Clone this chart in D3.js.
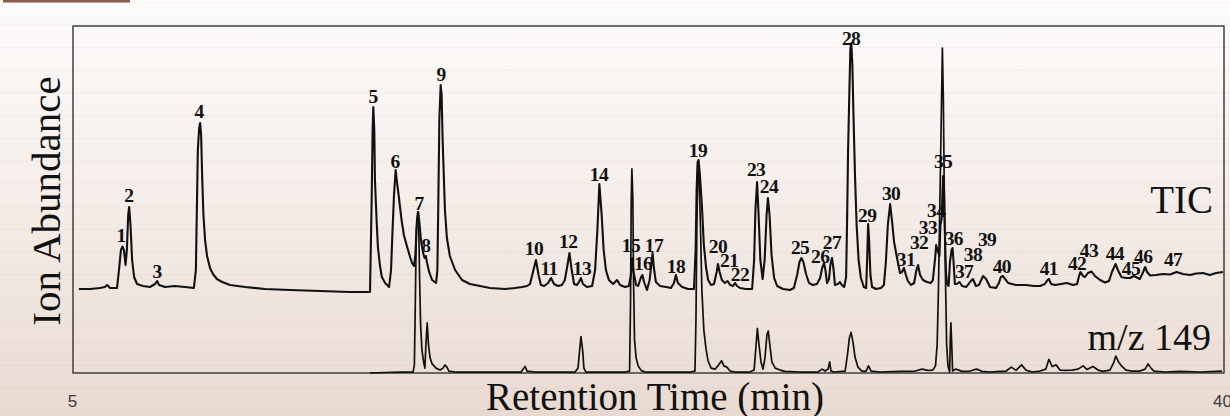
<!DOCTYPE html>
<html>
<head>
<meta charset="utf-8">
<script src="https://cdn.jsdelivr.net/npm/d3@7"></script>
<style>
  html, body { margin: 0; padding: 0; background: #fff; }
  svg { display: block; }
  .serif { font-family: "Liberation Serif", "Times New Roman", serif; fill: #111; }
  .peak-label { font-family: "Liberation Serif", "Times New Roman", serif; font-weight: bold; font-size: 19.5px; letter-spacing: -0.6px; fill: #111; }
  .tick text { font-family: "Liberation Sans", Arial, sans-serif; font-size: 17px; fill: #3a3a3a; }
</style>
</head>
<body>
<svg id="chart" width="1230" height="416"></svg>
<script>
// Axis ticks (retention time, min)
const X_TICKS = [5, 40];

// TIC trace: [retention time (min), abundance]
const ticTrace = [
  [5.21,2.4],[5.55,2.4],[5.85,2.8],[6.00,3.2],[6.07,4.0],[6.16,2.8],[6.37,2.8],[6.43,10],[6.49,18],[6.54,19.4],
  [6.58,18],[6.63,12],[6.67,18],[6.71,32],[6.74,35.2],[6.78,28],[6.83,14],[6.89,7.2],[6.98,4.4],[7.16,3.6],
  [7.37,3.2],[7.53,4.4],[7.59,5.6],[7.65,4.0],[7.83,3.2],[8.13,3.6],[8.44,3.2],[8.71,2.8],[8.77,10],[8.80,34],
  [8.83,58],[8.87,66.8],[8.90,68.8],[8.93,64],[8.96,48],[9.00,32],[9.05,22],[9.11,15.6],[9.20,10.8],[9.29,8.4],
  [9.41,6.4],[9.57,5.2],[9.81,4.0],[10.27,3.2],[10.87,2.4],[11.63,2.0],[12.55,1.6],[13.46,1.2],[14.07,1.2],[14.12,38],
  [14.15,66],[14.17,75.2],[14.20,66],[14.22,46],[14.27,30],[14.31,19.2],[14.37,12],[14.43,7.2],[14.53,4.8],[14.65,3.2],
  [14.71,10],[14.75,24],[14.80,40],[14.85,50],[14.89,45.2],[14.94,40],[15.03,30],[15.10,24],[15.20,19.2],[15.29,15.2],
  [15.35,12.8],[15.41,11.6],[15.45,16],[15.50,30],[15.54,33.2],[15.58,28],[15.62,22],[15.68,17.2],[15.73,14.8],[15.77,15.6],
  [15.80,13.2],[15.87,9.2],[15.96,6],[16.08,4.8],[16.12,10],[16.15,38],[16.18,70],[16.22,84],[16.25,80],[16.28,62],
  [16.31,50],[16.35,34],[16.41,22.8],[16.50,15.6],[16.66,10],[16.87,6],[17.11,4.4],[17.42,3.6],[17.72,2.8],[18.18,2.4],
  [18.48,2.8],[18.70,3.2],[18.85,3.6],[18.94,4.4],[19.03,9.2],[19.12,14],[19.20,8],[19.27,4],[19.37,3.6],[19.49,4.8],
  [19.58,6.8],[19.67,4.4],[19.79,3.6],[19.91,4],[20.00,6],[20.08,12],[20.14,16.8],[20.20,10.8],[20.28,4.4],[20.37,4],
  [20.43,5.2],[20.49,6.8],[20.55,4.4],[20.67,3.2],[20.83,3.6],[20.92,10],[20.99,26],[21.05,44.4],[21.12,32],[21.18,18],
  [21.25,10],[21.34,6],[21.47,4.4],[21.59,6],[21.68,4],[21.83,3.2],[21.95,3.6],[22.01,8],[22.05,14.8],[22.09,9.2],
  [22.17,4],[22.23,3.6],[22.32,7.2],[22.36,8],[22.41,5.2],[22.50,2],[22.58,6],[22.64,13.2],[22.67,16.8],[22.71,10.8],
  [22.77,5.2],[22.90,3.6],[23.08,3.2],[23.23,2.8],[23.32,4.8],[23.38,8],[23.44,4.8],[23.57,3.2],[23.75,2.4],[23.93,2.4],
  [23.98,18],[24.01,42],[24.04,53.2],[24.07,54],[24.11,48],[24.17,36],[24.23,20],[24.30,10.8],[24.36,6],[24.45,4],
  [24.54,4.4],[24.62,9.2],[24.66,12.4],[24.71,9.2],[24.78,6],[24.87,4.8],[24.95,5.6],[25.03,4],[25.12,3.6],[25.18,4.8],
  [25.24,3.6],[25.33,2.8],[25.51,2.4],[25.70,2.4],[25.76,14],[25.80,34],[25.85,45.2],[25.89,34],[25.95,14],[26.02,6.4],
  [26.08,14],[26.14,32],[26.18,38.8],[26.23,32],[26.29,16],[26.37,6.8],[26.46,3.6],[26.64,2.4],[26.85,2],[26.97,2.8],
  [27.07,8],[27.14,13.2],[27.20,14.8],[27.26,13.2],[27.34,8.4],[27.43,4.8],[27.55,4],[27.67,4.4],[27.77,6.8],[27.83,10.8],
  [27.89,12.8],[27.93,10],[27.98,4.8],[28.04,6.4],[28.08,12],[28.13,14.8],[28.18,10],[28.22,4],[28.31,4.4],[28.37,5.2],
  [28.43,4],[28.50,3.2],[28.56,7.2],[28.59,30],[28.62,58],[28.66,82],[28.69,98.8],[28.72,100.8],[28.75,92],[28.78,74],
  [28.83,48],[28.88,28],[28.94,14],[29.01,6.8],[29.10,3.2],[29.17,2.8],[29.20,14],[29.23,28.4],[29.26,22],[29.30,8],
  [29.35,3.2],[29.47,2.4],[29.62,2.8],[29.71,4],[29.77,13.2],[29.83,28],[29.90,36.4],[29.96,29.2],[30.02,21.2],[30.11,14.8],
  [30.20,8.8],[30.26,9.2],[30.32,10.8],[30.38,8],[30.44,5.6],[30.53,4],[30.63,4.8],[30.70,10],[30.75,12],[30.81,8],
  [30.90,6],[31.02,5.2],[31.14,4.8],[31.20,6],[31.27,14.8],[31.30,20],[31.36,17.2],[31.40,15.6],[31.43,28],[31.47,30.8],
  [31.49,40],[31.51,47.6],[31.54,42],[31.57,22],[31.60,9.2],[31.63,4.4],[31.68,3.6],[31.72,13.2],[31.77,18],[31.80,18.8],
  [31.83,13.2],[31.87,4.4],[31.93,4.4],[32.01,5.2],[32.09,3.6],[32.22,3.2],[32.33,5.2],[32.42,6.4],[32.51,3.6],[32.60,4],
  [32.73,7.6],[32.82,6.4],[32.94,3.2],[33.12,2.8],[33.21,4.8],[33.27,7.2],[33.33,7.6],[33.40,6.4],[33.49,4.8],[33.73,4],
  [34.03,4],[34.28,3.6],[34.46,3.6],[34.61,4.4],[34.69,6],[34.73,6.4],[34.80,4.4],[34.92,4],[35.10,4.4],[35.28,4.8],
  [35.47,4],[35.59,4.4],[35.65,7.6],[35.69,9.2],[35.77,7.6],[35.83,7.2],[35.92,8.8],[36.03,9.4],[36.13,7.6],[36.29,6],
  [36.44,5],[36.56,5.6],[36.65,9.2],[36.76,12.4],[36.83,10],[36.94,7.2],[37.08,6.8],[37.20,6.8],[37.32,7.6],[37.41,7],
  [37.50,6.4],[37.60,9.2],[37.66,11.2],[37.72,9.2],[37.81,7.8],[37.99,8],[38.20,8.4],[38.42,8.2],[38.62,9.2],[38.81,8.4],
  [39.03,8],[39.21,8.6],[39.42,8.8],[39.63,8],[39.82,8.8],[40.03,9.2]
];

// m/z 149 extracted ion trace: [retention time (min), abundance]
const mz149Trace = [
  [14.07,0],[14.98,0.3],[15.38,0.3],[15.42,2.5],[15.45,22.5],[15.48,44],[15.52,49.5],[15.55,46.5],[15.58,28.6],[15.61,14.8],
  [15.65,7.1],[15.70,3.4],[15.74,1.5],[15.77,8.6],[15.81,15.4],[15.85,8.6],[15.90,4.6],[15.96,2.8],[16.08,1.5],[16.20,0.9],
  [16.29,1.5],[16.35,2.5],[16.41,1.8],[16.47,0.6],[16.66,0.3],[18.03,0.3],[18.67,0.3],[18.73,1.2],[18.79,2],[18.85,0.6],
  [19.09,0.3],[20.31,0.3],[20.40,1.5],[20.45,7.1],[20.49,11.2],[20.54,7.1],[20.58,1.5],[20.64,0.3],[21.83,0.3],[21.97,0.6],
  [22.00,22.5],[22.02,53.2],[22.04,62.8],[22.07,53.2],[22.09,28.6],[22.12,10.2],[22.17,4.6],[22.23,2.2],[22.32,0.8],[22.44,0.3],
  [23.81,0.3],[23.96,0.6],[23.99,16.3],[24.02,47.1],[24.05,64.6],[24.08,62.5],[24.13,44],[24.17,25.5],[24.23,13.2],[24.30,7.1],
  [24.36,3.7],[24.45,1.5],[24.57,1.2],[24.66,2.2],[24.77,3.8],[24.84,2.2],[24.93,1.8],[25.03,0.6],[25.18,0.3],[25.63,0.3],
  [25.76,0.9],[25.82,8.6],[25.86,13.7],[25.91,8.6],[25.97,3.4],[26.03,1.2],[26.09,4.6],[26.15,11.7],[26.19,12.9],[26.24,8.6],
  [26.30,3.4],[26.40,1.5],[26.55,0.9],[26.70,0.5],[27.16,0.3],[27.70,0.3],[27.83,1.2],[27.92,0.6],[28.01,1.2],[28.06,3.4],
  [28.10,0.6],[28.19,0.3],[28.53,0.6],[28.60,5.5],[28.66,10.8],[28.71,12.5],[28.77,9.5],[28.83,4.9],[28.92,1.8],[29.04,0.6],
  [29.17,0.6],[29.24,2.2],[29.32,0.6],[29.59,0.3],[30.20,0.5],[30.66,0.6],[30.87,1.2],[31.05,0.8],[31.20,0.9],[31.28,2.2],
  [31.33,8.6],[31.37,25.5],[31.42,56.3],[31.46,80.9],[31.49,100],[31.52,84],[31.55,53.2],[31.59,25.5],[31.62,8.6],[31.66,2.2],
  [31.71,0.3],[31.73,10.2],[31.75,15.4],[31.78,7.1],[31.80,0.6],[31.90,1.2],[32.09,0.5],[32.33,0.6],[32.53,1.2],[32.70,0.5],
  [32.94,0.3],[33.24,0.5],[33.43,0.6],[33.59,1.8],[33.73,0.8],[33.90,2.5],[34.03,0.9],[34.22,0.3],[34.46,0.6],[34.64,1.2],
  [34.73,4.2],[34.83,2],[34.95,2.5],[35.07,0.9],[35.25,0.8],[35.43,0.9],[35.62,1.2],[35.77,2.2],[35.89,1.1],[36.07,2],
  [36.23,0.9],[36.38,0.5],[36.59,0.9],[36.70,3.1],[36.77,5.2],[36.85,3.4],[36.94,2.2],[37.08,0.9],[37.26,0.6],[37.50,0.6],
  [37.66,1.2],[37.75,2.8],[37.84,1.5],[37.93,0.6],[38.27,0.3],[38.72,0.5],[39.33,0.3],[40.00,0.6]
];

// Peak numbers, their retention times and the TIC level where each number sits
const peakIds = d3.range(1, 48).map(String);
const peakTimes = [
  6.49, 6.73, 7.59, 8.87, 14.16, 14.83, 15.56, 15.77, 16.23, 19.06,
  19.52, 20.10, 20.52, 21.04, 22.01, 22.38, 22.71, 23.38, 24.05, 24.66,
  25.00, 25.33, 25.82, 26.21, 27.16, 27.77, 28.13, 28.71, 29.20, 29.93,
  30.38, 30.78, 31.05, 31.30, 31.51, 31.84, 32.15, 32.42, 32.85, 33.30,
  34.73, 35.59, 35.95, 36.74, 37.23, 37.60, 38.51
];
const peakLabelLevels = [
  21.2, 37.2, 6.8, 70.8, 76.8, 50.8, 34, 17.2, 85.6, 16,
  8, 18.8, 8, 45.6, 17.2, 10, 17.2, 8.8, 55.2, 16.8,
  11.2, 5.6, 47.6, 40.8, 16.4, 12.8, 18.4, 100, 29.2, 38,
  11.6, 18.4, 24.4, 31.2, 50.8, 20, 6.8, 13.6, 19.6, 8.8,
  8, 10, 15.2, 14, 8, 12.8, 11.6
];

const W = 1230, H = 416;
const frame = { left: 73, top: 26, right: 1224, bottom: 373 };

const svg = d3.select("#chart");

// ─────────────────────────────────────────────
// Background (paper gradient with faint rules)
// ─────────────────────────────────────────────
const defs = svg.append("defs");
const grad = defs.append("linearGradient")
  .attr("id", "paper").attr("x1", 0).attr("y1", 0).attr("x2", 0).attr("y2", 1);
grad.append("stop").attr("offset", "0%").attr("stop-color", "#fdfcfb");
grad.append("stop").attr("offset", "45%").attr("stop-color", "#f5eeea");
grad.append("stop").attr("offset", "100%").attr("stop-color", "#e9dad1");

svg.append("rect").attr("width", W).attr("height", H).attr("fill", "url(#paper)");

svg.append("g")
  .selectAll("line")
  .data(d3.range(2.3, H, 22.7))
  .join("line")
  .attr("x1", 0).attr("x2", W)
  .attr("y1", d => d).attr("y2", d => d)
  .attr("stroke", "#b89a8c")
  .attr("stroke-opacity", 0.1)
  .attr("stroke-width", 1);

svg.append("rect")
  .attr("x", 3).attr("y", 0).attr("width", 127).attr("height", 2.5)
  .attr("fill", "#8d5b4f");

// ─────────────────────────────────────────────
// Scales
// ─────────────────────────────────────────────
const x = d3.scaleLinear().domain([5, 40]).range([72, 1222]);
const yTic = d3.scaleLinear().domain([0, 100]).range([295, 45]);
const yMz = d3.scaleLinear().domain([0, 100]).range([373, 48]);

// Frame
svg.append("rect")
  .attr("x", frame.left).attr("y", frame.top)
  .attr("width", frame.right - frame.left).attr("height", frame.bottom - frame.top)
  .attr("fill", "none").attr("stroke", "#262626").attr("stroke-width", 1.3);

// Traces
const ticLine = d3.line().x(d => x(d[0])).y(d => yTic(d[1]));
const mzLine = d3.line().x(d => x(d[0])).y(d => yMz(d[1]));

svg.append("path")
  .datum(mz149Trace)
  .attr("d", mzLine)
  .attr("fill", "none").attr("stroke", "#111").attr("stroke-width", 1.7)
  .attr("stroke-linejoin", "round");

svg.append("path")
  .datum(ticTrace)
  .attr("d", ticLine)
  .attr("fill", "none").attr("stroke", "#111").attr("stroke-width", 2.1)
  .attr("stroke-linejoin", "round");

// Peak numbers
svg.append("g")
  .selectAll("text")
  .data(peakIds)
  .join("text")
  .attr("class", "peak-label")
  .attr("text-anchor", "middle")
  .attr("x", (d, i) => x(peakTimes[i]))
  .attr("y", (d, i) => yTic(peakLabelLevels[i]))
  .text(d => d);

// Trace names
svg.append("text").attr("class", "serif")
  .attr("x", 1213).attr("y", 213).attr("text-anchor", "end")
  .attr("font-size", 39).text("TIC");

svg.append("text").attr("class", "serif")
  .attr("x", 1211).attr("y", 350).attr("text-anchor", "end")
  .attr("font-size", 38).text("m/z 149");

// X axis (only end ticks labelled)
const xAxis = d3.axisBottom(x).tickValues(X_TICKS).tickSize(0).tickFormat(d3.format("d"));
const gx = svg.append("g").call(xAxis);
gx.select(".domain").remove();
gx.selectAll(".tick text").attr("y", 406.5).attr("dy", 0);

// Axis titles
svg.append("text").attr("class", "serif")
  .attr("x", 655).attr("y", 410).attr("text-anchor", "middle")
  .attr("font-size", 39).text("Retention Time (min)");

svg.append("text").attr("class", "serif")
  .attr("transform", "translate(60,201) rotate(-90)")
  .attr("text-anchor", "middle")
  .attr("font-size", 41).text("Ion Abundance");
</script>
</body>
</html>
